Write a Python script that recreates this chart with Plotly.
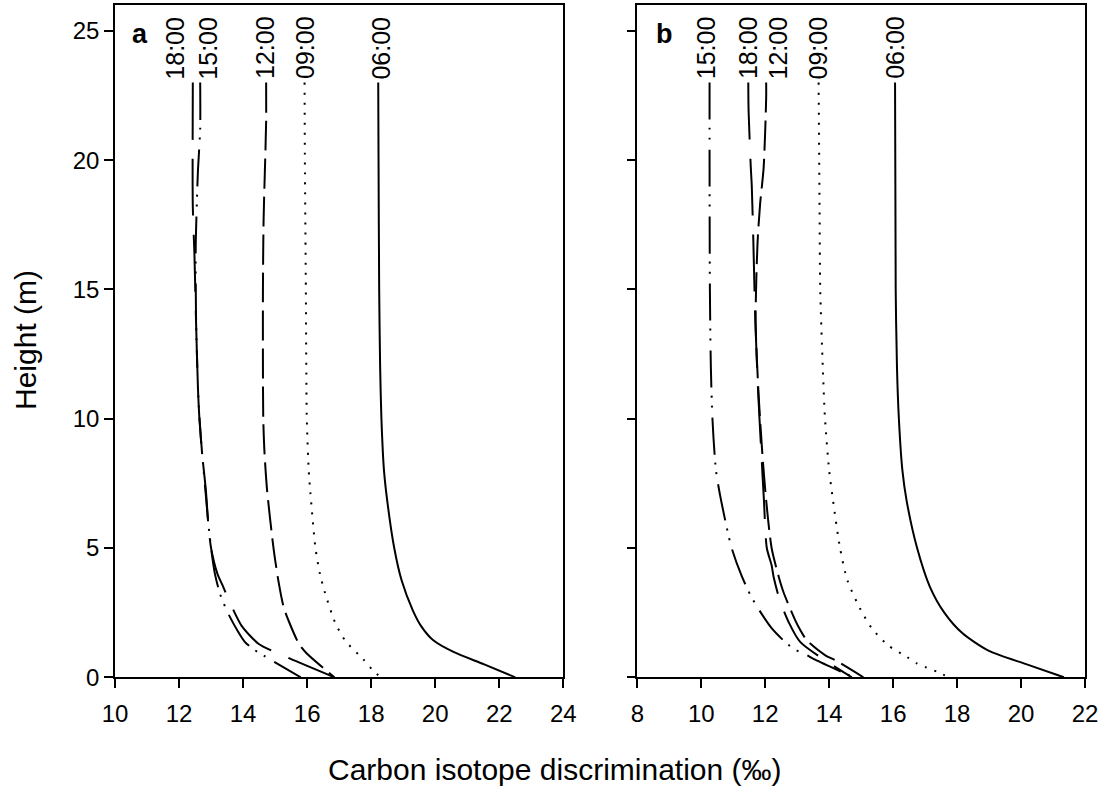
import plotly.graph_objects as go

# ---------------- data ----------------
times = ["06:00", "09:00", "12:00", "15:00", "18:00"]

# Panel a
a_0600_h = [23, 20, 15, 12, 10, 8, 6.84, 5, 3.75, 2.59, 2.0, 1.43, 0.98, 0.5, 0]
a_0600_x = [18.22, 18.23, 18.25, 18.28, 18.32, 18.4, 18.5, 18.72, 18.95, 19.3, 19.55, 19.94, 20.57, 21.53, 22.5]
a_0900_h = [23, 20, 15, 10, 8, 7.16, 5, 4, 3.3, 2.1, 1.4, 0.7, 0.27, 0]
a_0900_x = [15.92, 15.93, 15.96, 15.99, 16.05, 16.1, 16.26, 16.4, 16.55, 16.88, 17.2, 17.75, 18.05, 18.3]
a_1200_h = [23, 21.5, 17.67, 15, 12, 10, 8.66, 7.23, 5, 3.75, 2.7, 2.1, 1.28, 0.92, 0]
a_1200_x = [14.72, 14.72, 14.64, 14.62, 14.62, 14.63, 14.67, 14.75, 14.95, 15.1, 15.27, 15.45, 15.75, 15.99, 16.85]
a_1500_h = [23, 21.2, 19.6, 18.1, 16.6, 14, 11.2, 10, 8.66, 7, 6, 5, 4, 3.23, 2.5, 1.75, 1.36, 1.08, 0.85, 0]
a_1500_x = [12.66, 12.66, 12.59, 12.55, 12.52, 12.53, 12.59, 12.64, 12.72, 12.84, 12.91, 13.0, 13.12, 13.28, 13.52, 13.85, 14.06, 14.33, 14.63, 15.8]
a_1800_h = [23, 18.2, 16.4, 13.8, 11.2, 9.93, 8.66, 7.2, 6, 5, 4, 3.5, 3, 2, 1.3, 0.92, 0]
a_1800_x = [12.43, 12.43, 12.48, 12.53, 12.59, 12.64, 12.72, 12.84, 12.91, 13.0, 13.2, 13.38, 13.55, 13.95, 14.48, 15.1, 16.85]

# Panel b
b_0600_h = [23, 15, 12, 10, 8, 6.84, 5, 3.5, 2.5, 1.7, 1.03, 0.5, 0]
b_0600_x = [16.06, 16.08, 16.12, 16.18, 16.29, 16.42, 16.75, 17.15, 17.6, 18.17, 18.98, 20.18, 21.34]
b_0900_h = [23, 18, 15, 12, 10, 8, 6.84, 5, 3.75, 2.65, 1.9, 1.23, 0.79, 0.55, 0.4, 0.2, 0]
b_0900_x = [13.67, 13.7, 13.72, 13.8, 13.87, 14.0, 14.12, 14.34, 14.57, 14.97, 15.33, 15.85, 16.43, 16.72, 17.0, 17.4, 17.75]
b_1200_h = [23, 22.4, 19.7, 18.3, 16.8, 13.8, 11, 8.65, 6.84, 5, 3.9, 3.3, 2.2, 1.82, 1.43, 0.85, 0.66, 0]
b_1200_x = [12.03, 12.03, 11.95, 11.84, 11.76, 11.7, 11.79, 11.91, 12.03, 12.2, 12.42, 12.57, 12.94, 13.1, 13.3, 13.88, 14.19, 15.07]
b_1500_h = [23, 20, 15, 12, 10, 8, 6.84, 5, 3.9, 3.15, 2.78, 1.9, 1.3, 1.07, 0.88, 0.68, 0]
b_1500_x = [10.26, 10.26, 10.27, 10.3, 10.35, 10.46, 10.62, 10.95, 11.27, 11.55, 11.72, 12.2, 12.68, 12.94, 13.27, 13.56, 14.76]
b_1800_h = [23, 21.9, 19.7, 19.0, 16.8, 13.8, 11, 8.65, 6.84, 5, 4.33, 3.9, 3.0, 2.14, 1.36, 0]
b_1800_x = [11.47, 11.48, 11.55, 11.58, 11.63, 11.69, 11.78, 11.88, 11.96, 12.05, 12.2, 12.26, 12.45, 12.73, 13.1, 14.71]

panel_a = {"06:00": (a_0600_x, a_0600_h), "09:00": (a_0900_x, a_0900_h),
           "12:00": (a_1200_x, a_1200_h), "15:00": (a_1500_x, a_1500_h),
           "18:00": (a_1800_x, a_1800_h)}
panel_b = {"06:00": (b_0600_x, b_0600_h), "09:00": (b_0900_x, b_0900_h),
           "12:00": (b_1200_x, b_1200_h), "15:00": (b_1500_x, b_1500_h),
           "18:00": (b_1800_x, b_1800_h)}

# label placement (x in data units) for each panel
label_x_a = {"18:00": 11.87, "15:00": 12.9, "12:00": 14.69, "09:00": 15.94, "06:00": 18.3}
label_x_b = {"15:00": 10.13, "18:00": 11.44, "12:00": 12.39, "09:00": 13.64, "06:00": 16.06}

x_ticks_a = [10, 12, 14, 16, 18, 20, 22, 24]
x_ticks_b = [8, 10, 12, 14, 16, 18, 20, 22]
y_ticks = [0, 5, 10, 15, 20, 25]

# ---------------- styles ----------------
FONT = "Liberation Sans, Arial, sans-serif"
styles = {
    "06:00": dict(dash="solid", width=2),
    "09:00": dict(dash="2px,8px", width=2),
    "12:00": dict(dash="30px,8px", width=2),
    "15:00": dict(dash="37px,8px,2px,8px,2px,10px", width=2),
    "18:00": dict(dash="57px,19px", width=2),
}

W, H = 1109, 793
fig = go.Figure()

for panel, xa, ya in [(panel_a, "x", "y"), (panel_b, "x2", "y2")]:
    for t in times:
        xs, hs = panel[t]
        st = styles[t]
        fig.add_trace(go.Scatter(x=xs, y=hs, mode="lines", xaxis=xa, yaxis=ya,
                                 line=dict(color="black", width=st["width"], dash=st["dash"],
                                           shape="spline", smoothing=0.7),
                                 showlegend=False, hoverinfo="skip"))

def px_x(p):
    return p / W

def px_y(p):
    return 1 - p / H

xdom_a = [px_x(115), px_x(563.3)]
xdom_b = [px_x(637.3), px_x(1085)]
ydom = [px_y(677.3), px_y(5)]

axis_common = dict(showline=True, linecolor="black", linewidth=1.5, mirror=True,
                   ticks="outside", ticklen=9, tickwidth=1.5, tickcolor="black",
                   showgrid=False, zeroline=False, automargin=False,
                   tickfont=dict(family=FONT, size=24, color="black"))

fig.update_layout(
    width=W, height=H,
    margin=dict(l=0, r=0, t=0, b=0, pad=0, autoexpand=False),
    paper_bgcolor="white", plot_bgcolor="white",
    xaxis=dict(domain=xdom_a, range=[10, 24], tickvals=x_ticks_a, anchor="y",
               ticklabelstandoff=5, **axis_common),
    xaxis2=dict(domain=xdom_b, range=[8, 22], tickvals=x_ticks_b, anchor="y2",
                ticklabelstandoff=5, **axis_common),
    yaxis=dict(domain=ydom, range=[0, 26], tickvals=y_ticks, anchor="x",
               ticklabelstandoff=0, **axis_common),
    yaxis2=dict(domain=ydom, range=[0, 26], tickvals=y_ticks, anchor="x2",
                showticklabels=False, **axis_common),
)

ann = []
for labels, xr, yr in [(label_x_a, "x", "y"), (label_x_b, "x2", "y2")]:
    for t, lx in labels.items():
        ann.append(dict(x=lx, y=23.05, xref=xr, yref=yr, text=t, showarrow=False,
                        textangle=-90, xanchor="center", yanchor="bottom",
                        font=dict(family=FONT, size=25, color="black")))

ann.append(dict(x=px_x(130), y=px_y(34), xref="paper", yref="paper", text="<b>a</b>",
                showarrow=False, xanchor="left", yanchor="middle",
                font=dict(family=FONT, size=27, color="black")))
ann.append(dict(x=px_x(654), y=px_y(34), xref="paper", yref="paper", text="<b>b</b>",
                showarrow=False, xanchor="left", yanchor="middle",
                font=dict(family=FONT, size=27, color="black")))
ann.append(dict(x=px_x(25), y=px_y(340), xref="paper", yref="paper", text="Height (m)",
                showarrow=False, textangle=-90, xanchor="center", yanchor="middle",
                font=dict(family=FONT, size=30, color="black")))
ann.append(dict(x=px_x(555), y=px_y(769), xref="paper", yref="paper",
                text="Carbon isotope discrimination (‰)",
                showarrow=False, xanchor="center", yanchor="middle",
                font=dict(family=FONT, size=30, color="black")))
fig.update_layout(annotations=ann)

fig.write_html("out.html", config={"displayModeBar": False},
               post_script="document.body.style.margin='0';document.body.style.overflow='hidden';")
